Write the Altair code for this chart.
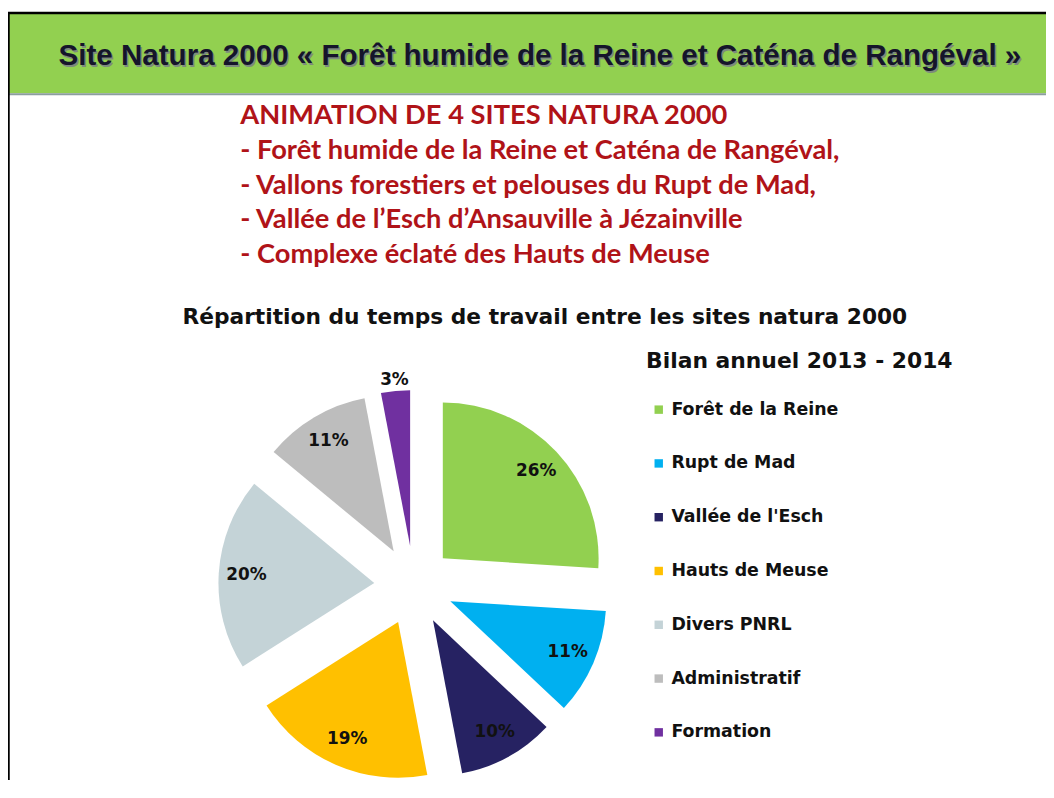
import math
import altair as alt
import pandas as pd

# ---- data ----
header = "Site Natura 2000 « Forêt humide de la Reine et Caténa de Rangéval »"
intro_lines = [
    "ANIMATION DE 4 SITES NATURA 2000",
    "- Forêt humide de la Reine et Caténa de Rangéval,",
    "- Vallons forestiers et pelouses du  Rupt de Mad,",
    "- Vallée de l\u2019Esch d\u2019Ansauville à Jézainville",
    "- Complexe éclaté des Hauts de Meuse",
]
chart_title = "Répartition du temps de travail entre les sites natura 2000"
legend_title = "Bilan annuel 2013 - 2014"
categories = ["Forêt de la Reine", "Rupt de Mad", "Vallée de l'Esch", "Hauts de Meuse",
              "Divers PNRL", "Administratif", "Formation"]
values = [26, 11, 10, 19, 20, 11, 3]
colors = ["#92d050", "#00b0f0", "#262262", "#ffc000", "#c4d3d7", "#bdbdbd", "#7030a0"]

W, H = 1046, 775
CX, CY = 409, 579      # pie centre (chart pixels)
R = 157                # pie radius
EXPLODE = 40
LABEL_R = 129
OUT_R = 168

pie_df = pd.DataFrame({"i": list(range(len(categories))), "cat": categories, "v": values})

base_pie = alt.Chart(pie_df).transform_window(
    cum="sum(v)", sort=[alt.SortField("i")], frame=[None, 0]
).transform_calculate(
    t0="datum.cum - datum.v",
    mid="(datum.cum - datum.v / 2) / 100 * 2 * PI",
).transform_calculate(
    cx=f"{CX} + {EXPLODE} * sin(datum.mid)",
    cy=f"{CY} - {EXPLODE} * cos(datum.mid)",
).transform_calculate(
    lr=f"datum.v < 5 ? {OUT_R} : {LABEL_R}",
).transform_calculate(
    lx="datum.cx + datum.lr * sin(datum.mid)",
    ly="datum.cy - datum.lr * cos(datum.mid)",
    lab="datum.v + '%'",
)

arcs = base_pie.mark_arc(radius=R, stroke=None).encode(
    x=alt.X("cx:Q", scale=None),
    y=alt.Y("cy:Q", scale=None),
    theta=alt.Theta("t0:Q", scale=alt.Scale(domain=[0, 100], range=[0, 2 * math.pi])),
    theta2="cum:Q",
    color=alt.Color(
        "cat:N",
        scale=alt.Scale(domain=categories, range=colors),
        sort=categories,
        title=None,
        legend=alt.Legend(
            orient="none", legendX=647, legendY=393, padding=0,
            symbolType="square", symbolSize=72, symbolStrokeWidth=0,
            labelFont="DejaVu Sans", labelFontWeight="bold", labelFontSize=17.5,
            labelColor="#111111", labelOffset=4, rowPadding=35.2,
            labelLimit=400,
        ),
    ),
)

pie_labels = base_pie.mark_text(
    font="DejaVu Sans", fontWeight="bold", fontSize=17, color="#111111",
    align="center", baseline="middle",
).encode(
    x=alt.X("lx:Q", scale=None),
    y=alt.Y("ly:Q", scale=None),
    text="lab:N",
)

# ---- slide frame ----
one = pd.DataFrame({"k": [0]})
band = alt.Chart(one).mark_rect(color="#92d050").encode(
    x=alt.value(1), x2=alt.value(W), y=alt.value(3), y2=alt.value(83))
band_line = alt.Chart(one).mark_rule(color="#8c9e9e", strokeWidth=2).encode(
    x=alt.value(1), x2=alt.value(W), y=alt.value(84))
top_line = alt.Chart(one).mark_rule(color="#000000", strokeWidth=2.5).encode(
    x=alt.value(0), x2=alt.value(W), y=alt.value(2))
left_line = alt.Chart(one).mark_rule(color="#000000", strokeWidth=2.5).encode(
    x=alt.value(0.5), y=alt.value(2), y2=alt.value(H))

head_df = pd.DataFrame({"t": [header]})
head_shadow = alt.Chart(head_df).mark_text(
    font="Liberation Sans", fontWeight="bold", fontSize=29.8, color="#7d8a7d",
    align="center", baseline="alphabetic",
).encode(text="t:N", x=alt.value(537.5), y=alt.value(56))
head_text = alt.Chart(head_df).mark_text(
    font="Liberation Sans", fontWeight="bold", fontSize=29.8, color="#15152a",
    align="center", baseline="alphabetic",
).encode(text="t:N", x=alt.value(536), y=alt.value(54.5))

intro_df = pd.DataFrame({"i": list(range(len(intro_lines))), "t": intro_lines})
intro = alt.Chart(intro_df).transform_calculate(
    yy="114 + datum.i * 35"
).mark_text(
    font="Lato", fontWeight="bold", fontSize=27.5, color="#b01318",
    align="left", baseline="alphabetic",
).encode(text="t:N", x=alt.value(234), y=alt.Y("yy:Q", scale=None))

ctitle = alt.Chart(pd.DataFrame({"t": [chart_title]})).mark_text(
    font="DejaVu Sans", fontWeight="bold", fontSize=21.9, color="#111111",
    align="center", baseline="alphabetic",
).encode(text="t:N", x=alt.value(541), y=alt.value(315))

ltitle = alt.Chart(pd.DataFrame({"t": [legend_title]})).mark_text(
    font="DejaVu Sans", fontWeight="bold", fontSize=22, color="#111111",
    align="left", baseline="alphabetic",
).encode(text="t:N", x=alt.value(643), y=alt.value(360))

chart = alt.layer(
    band, band_line, top_line, left_line, head_shadow, head_text,
    intro, ctitle, ltitle, arcs, pie_labels,
).properties(
    width=W, height=H, padding=0, autosize=alt.AutoSizeParams(type="none"),
    background="#ffffff",
).configure_view(stroke=None)

chart.save("out.html", embed_options={"renderer": "svg", "actions": False})
